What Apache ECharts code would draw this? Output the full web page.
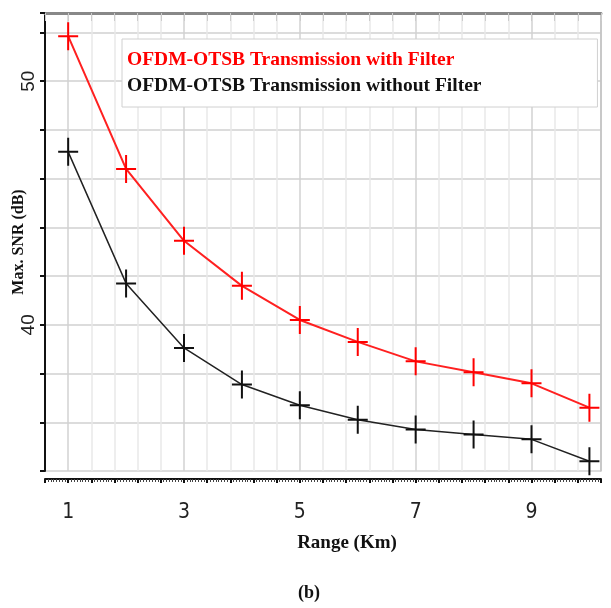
<!DOCTYPE html>
<html>
<head>
<meta charset="utf-8">
<script src="https://cdn.jsdelivr.net/npm/echarts@6/dist/echarts.min.js"></script>
<style>html,body{margin:0;padding:0;background:#fff;}#c{width:611px;height:608px;}</style>
</head>
<body>
<div id="c"></div>
<script>
var rangeKm = [1, 2, 3, 4, 5, 6, 7, 8, 9, 10];
var withFilter = [51.85, 46.4, 43.45, 41.6, 40.2, 39.3, 38.5, 38.05, 37.6, 36.6];
var withoutFilter = [47.1, 41.7, 39.05, 37.55, 36.7, 36.1, 35.7, 35.5, 35.3, 34.4];
var xLabelValues = [1, 3, 5, 7, 9];
var yLabelValues = [40, 50];
var seriesNames = ['OFDM-OTSB Transmission with Filter', 'OFDM-OTSB Transmission without Filter'];

function pairs(xs, ys) { return xs.map(function (x, i) { return [x, ys[i]]; }); }
var plus = 'path://M9,0h2v13h9v2h-9v13h-2v-13h-9v-2h9z';

var chart = echarts.init(document.getElementById('c'), null, { renderer: 'canvas' });
chart.setOption({
  animation: false,
  backgroundColor: '#fff',
  grid: { left: 45, right: 10, top: 13, bottom: 137, containLabel: false, outerBoundsMode: 'none' },
  legend: {
    orient: 'vertical', left: 122, top: 39,
    itemWidth: 0, itemHeight: 0, itemGap: 6,
    padding: [11, 116, 11, 0],
    backgroundColor: '#fff', borderColor: '#d0d0d0', borderWidth: 1,
    textStyle: { fontFamily: 'Liberation Serif', fontWeight: 'bold', fontSize: 19.5 },
    data: [
      { name: seriesNames[0], icon: 'none', textStyle: { color: '#ff0000' } },
      { name: seriesNames[1], icon: 'none', textStyle: { color: '#111' } }
    ]
  },
  xAxis: [{
    type: 'value', min: 0.6, max: 10.2, interval: 0.4, offset: 8,
    name: 'Range (Km)', nameLocation: 'middle', nameGap: 55, nameMoveOverlap: false,
    nameTextStyle: { fontFamily: 'Liberation Serif', fontWeight: 'bold', fontSize: 19, color: '#111', padding: [0, 0, 0, 48] },
    axisLine: { show: true, lineStyle: { color: '#111', width: 2 } },
    axisTick: { show: true, length: 4, lineStyle: { color: '#111', width: 2 } },
    minorTick: { show: true, splitNumber: 8, length: 3, lineStyle: { color: '#444', width: 1 } },
    axisLabel: {
      margin: 23, fontFamily: 'Liberation Sans Narrow, DejaVu Sans Condensed, sans-serif', fontSize: 21, color: '#222',
      formatter: function (v) {
        var r = Math.round(v);
        return (Math.abs(v - r) < 1e-6 && xLabelValues.indexOf(r) >= 0) ? String(r) : '';
      }
    },
    splitLine: { show: true, lineStyle: { color: ['#e8e8e8', '#d2d2d2', '#e8e8e8', '#e8e8e8', '#e8e8e8'], width: 1.5 } }
  }, {
    type: 'value', position: 'top', min: 0.6, max: 10.2, interval: 0.4,
    axisLine: { show: true, lineStyle: { color: '#888', width: 3, type: [2, 1] } },
    axisTick: { show: true, inside: true, length: 8, lineStyle: { color: '#ccc' } },
    axisLabel: { show: false }, splitLine: { show: false }
  }],
  yAxis: [{
    type: 'value', min: 34, max: 52.8, interval: 2,
    name: 'Max. SNR (dB)', nameLocation: 'middle', nameGap: 18, nameMoveOverlap: false,
    nameTextStyle: { fontFamily: 'Liberation Serif', fontWeight: 'bold', fontSize: 16, color: '#111' },
    axisLine: { show: true, lineStyle: { color: '#111', width: 2 } },
    axisTick: { show: true, length: 5, lineStyle: { color: '#111', width: 2 } },
    axisLabel: {
      rotate: 90, margin: 7, fontFamily: 'Liberation Sans, sans-serif', fontSize: 19, color: '#222',
      formatter: function (v) { return yLabelValues.indexOf(Math.round(v)) >= 0 && Math.abs(v - Math.round(v)) < 1e-6 ? String(Math.round(v)) : ''; }
    },
    splitLine: { show: true, lineStyle: { color: '#dcdcdc', width: 2 } }
  }, {
    type: 'value', position: 'right', min: 34, max: 52.8, interval: 2,
    axisLine: { show: true, lineStyle: { color: '#bbb', width: 1.5 } },
    axisTick: { show: false }, axisLabel: { show: false }, splitLine: { show: false }
  }],
  series: [{
    name: seriesNames[0], type: 'line', data: pairs(rangeKm, withFilter),
    symbol: plus, symbolSize: [20, 28], color: '#ff0000',
    lineStyle: { color: '#ff2020', width: 2 }, itemStyle: { color: '#ff0000' }, z: 3
  }, {
    name: seriesNames[1], type: 'line', data: pairs(rangeKm, withoutFilter),
    symbol: plus, symbolSize: [20, 28], color: '#111',
    lineStyle: { color: '#222', width: 1.5 }, itemStyle: { color: '#111' }, z: 3
  }],
  graphic: [{
    type: 'text', x: 309, y: 593,
    style: { text: '(b)', fill: '#111', font: 'bold 18px "Liberation Serif"', textAlign: 'center', textVerticalAlign: 'middle' }
  }]
});
</script>
</body>
</html>
